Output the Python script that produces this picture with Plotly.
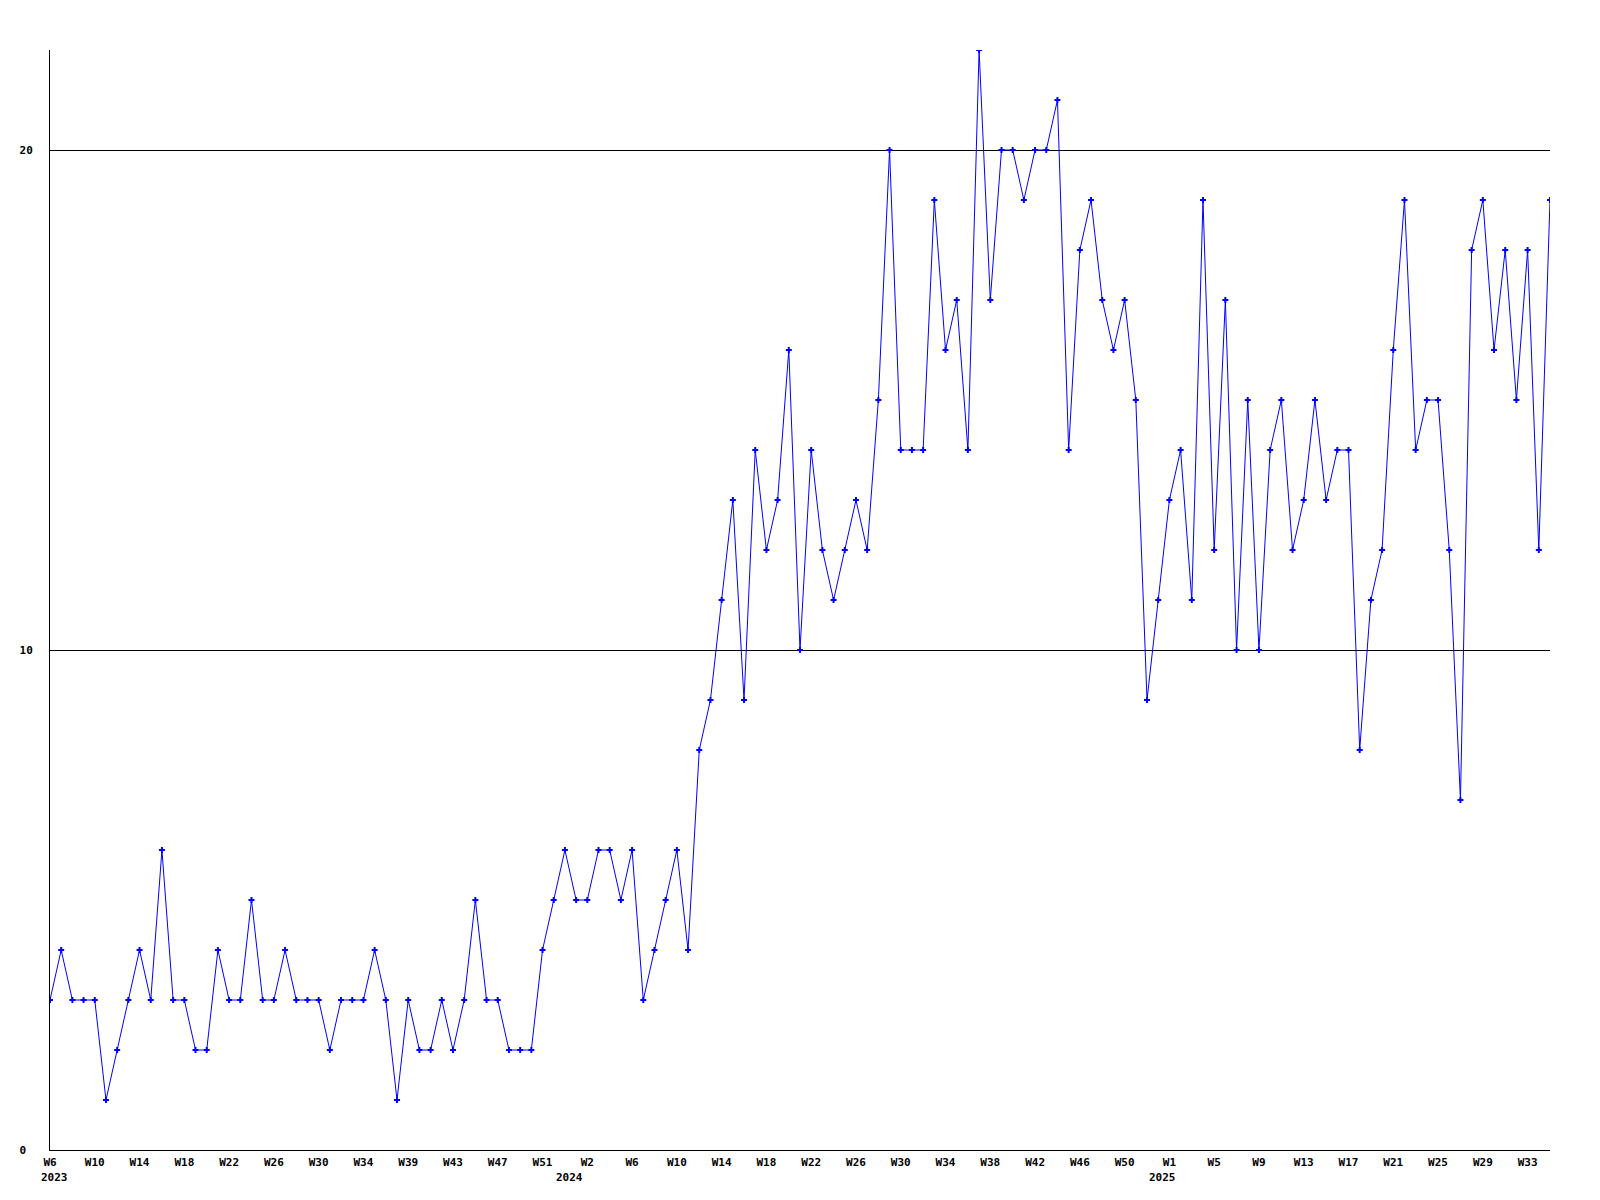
import plotly.graph_objects as go

# Weekly values, 2023 W6 .. 2025 W35 (one value per week)
values = [
    3, 4, 3, 3, 3, 1, 2, 3, 4, 3, 6, 3, 3, 2, 2, 4, 3, 3, 5, 3,
    3, 4, 3, 3, 3, 2, 3, 3, 3, 4, 3, 1, 3, 2, 2, 3, 2, 3, 5, 3,
    3, 2, 2, 2, 4, 5,
    6, 5, 5, 6, 6, 5, 6, 3, 4, 5, 6, 4, 8, 9, 11, 13, 9, 14, 12, 13,
    16, 10, 14, 12, 11, 12, 13, 12, 15, 20, 14, 14, 14, 19, 16, 17, 14, 22, 17, 20,
    20, 19, 20, 20, 21,
    14, 18, 19, 17, 16, 17, 15, 9, 11, 13, 14, 11, 19, 12, 17, 10, 15, 10, 14, 15,
    12, 13, 15, 13, 14, 14, 8, 11, 12, 16, 19, 14, 15, 15, 12, 7, 18, 19, 16, 18,
    15, 18, 12, 19,
]

# Week tick labels (every 4th point)
week_labels = [
    "W6", "W10", "W14", "W18", "W22", "W26", "W30", "W34", "W39", "W43", "W47", "W51",
    "W2", "W6", "W10", "W14", "W18", "W22", "W26", "W30", "W34", "W38", "W42", "W46", "W50",
    "W1", "W5", "W9", "W13", "W17", "W21", "W25", "W29", "W33",
]
tick_step = 4

years = ["2023", "2024", "2025"]
year_first_week_index = [-5, 47, 100]   # index of week 1 of each year

y_ticks = [0, 10, 20]

FONT = dict(family="DejaVu Sans Mono", size=11, color="black", weight="bold")

x = list(range(len(values)))
tickvals = [i * tick_step for i in range(len(week_labels))]

fig = go.Figure(
    go.Scatter(
        x=x,
        y=values,
        mode="lines+markers",
        line=dict(color="#0000ff", width=1),
        marker=dict(symbol="cross", size=5, color="#0000ff", line=dict(width=0)),
        hoverinfo="x+y",
    )
)

annotations = []
for yr, wk1 in zip(years, year_first_week_index):
    ax = wk1 - 2
    shift = 0
    if ax < 0:
        ax = 0
        shift = -11
    annotations.append(dict(
        x=ax, xref="x", y=0, yref="paper",
        text=yr, showarrow=False, xanchor="left", yanchor="top",
        xshift=shift, yshift=-19, font=FONT,
    ))

# page body has an 8px default margin, so the figure is shifted by 8px
fig.update_layout(
    width=1600,
    height=1200,
    autosize=False,
    margin=dict(l=42, r=58, t=42, b=58, pad=0),
    paper_bgcolor="white",
    plot_bgcolor="white",
    showlegend=False,
    annotations=annotations,
    xaxis=dict(
        range=[0, len(values) - 1],
        showgrid=False,
        zeroline=False,
        showline=True,
        linecolor="black",
        linewidth=1,
        ticks="",
        tickvals=tickvals,
        ticktext=week_labels,
        tickfont=FONT,
        tickangle=0,
        ticklabelstandoff=2,
    ),
    yaxis=dict(
        range=[0, 22],
        tickvals=y_ticks,
        ticktext=[("%d" % v).ljust(2, "\u00a0") for v in y_ticks],
        showgrid=True,
        gridcolor="black",
        gridwidth=1,
        zeroline=False,
        showline=True,
        linecolor="black",
        linewidth=1,
        ticks="",
        tickfont=FONT,
        ticklabelstandoff=14,
    ),
)

fig.write_html("out.html")
